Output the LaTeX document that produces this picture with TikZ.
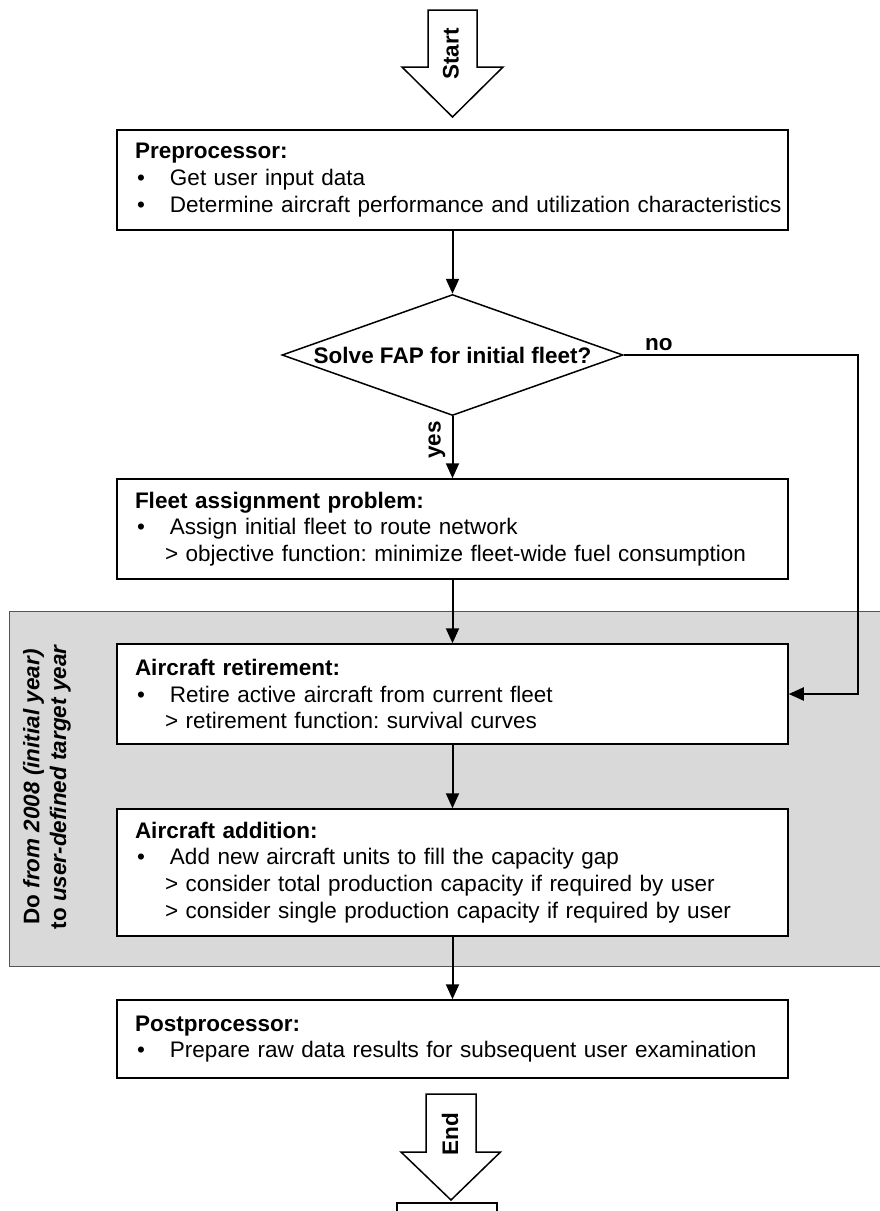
\documentclass[tikz,border=0pt]{standalone}
\usepackage{fontspec}
\setmainfont{Liberation Sans}
\usetikzlibrary{arrows.meta,shapes.geometric}
\definecolor{loopfill}{RGB}{217,217,217}
\definecolor{loopedge}{RGB}{85,85,85}
% bullet and sub-item indentation inside the process boxes
\newcommand{\itemdot}{\makebox[35pt][l]{\hspace{2pt}•}}
\newcommand{\subind}{\hspace*{30pt}}
\frenchspacing
\begin{document}
\begin{tikzpicture}[x=1pt,y=-1pt,
  txt/.style={font=\fontsize{22.5}{26.7}\selectfont},
  boldtxt/.style={font=\fontsize{22.5}{26.7}\selectfont\bfseries},
  box/.style={txt, draw=black, line width=1.5pt, fill=white, rectangle,
    text width=635pt, inner xsep=18pt, inner ysep=0pt, align=left},
  decision/.style={boldtxt, diamond, draw=black, line width=1.5pt, fill=white,
    aspect=2.82, minimum width=341pt, minimum height=121pt, inner sep=0pt},
  blockarrow/.style={draw=black, line width=1.5pt, fill=white, line join=miter},
  link/.style={line width=2pt},
  arr/.style={link, -{Triangle[length=15pt,width=13pt]}},
]
\useasboundingbox (0,0) rectangle (880,1211);

% yearly loop region
\fill[loopfill] (9.5,611) rectangle (900,966);
\draw[loopedge, line width=1pt] (900,611) -- (9.5,611) -- (9.5,966) -- (900,966);
\node[boldtxt, rotate=90, align=center] (looplabel) at (47,787)
  {Do \textit{from 2008 (initial year)}\\to \textit{user-defined target year}};

% start block arrow
\draw[blockarrow] (428,10) -- (477,10) -- (477,67) -- (503,67) -- (452.5,117)
  -- (402,67) -- (428,67) -- cycle;
\node[boldtxt, rotate=90] (starttxt) at (451,54) {Start};

% process boxes
\node[box, minimum height=100pt] (pre) at (452.5,180)
  {\textbf{Preprocessor:}\\
   \itemdot Get user input data\\
   \itemdot\mbox{Determine aircraft performance and utilization characteristics}};

\node[decision] (dec) at (452.5,355) {\makebox[0pt]{Solve FAP for initial fleet?}};

\node[box, minimum height=100pt] (fap) at (452.5,529)
  {\textbf{Fleet assignment problem:}\\
   \itemdot Assign initial fleet to route network\\
   \subind\mbox{> objective function: minimize fleet-wide fuel consumption}};

\node[box, minimum height=100pt] (ret) at (452.5,694)
  {\textbf{Aircraft retirement:}\\
   \itemdot Retire active aircraft from current fleet\\
   \subind > retirement function: survival curves};

\node[box, minimum height=127pt] (add) at (452.5,872.5)
  {\textbf{Aircraft addition:}\\
   \itemdot Add new aircraft units to fill the capacity gap\\
   \subind\mbox{> consider total production capacity if required by user}\\
   \subind\mbox{> consider single production capacity if required by user}};

\node[box, minimum height=78pt] (post) at (452.5,1039)
  {\textbf{Postprocessor:}\\
   \itemdot\mbox{Prepare raw data results for subsequent user examination}};

% end block arrow and the following box
\draw[blockarrow] (426,1094) -- (476,1094) -- (476,1152) -- (500.5,1152) -- (451,1200)
  -- (401,1152) -- (426,1152) -- cycle;
\node[boldtxt, rotate=90] (endtxt) at (450,1134) {End};
\node[draw=black, line width=1.5pt, fill=white, minimum width=100pt, minimum height=30pt,
  anchor=north, inner sep=0pt] (nextbox) at (447,1202) {};

% connectors
\draw[arr] (pre.south) -- (dec.north);
\draw[arr] (dec.south) -- (fap.north);
\draw[arr] (fap.south) -- (ret.north);
\draw[arr] (ret.south) -- (add.north);
\draw[arr] (add.south) -- (post.north);
\coordinate (rail) at (858,355);
\draw[arr] (dec.east) -- (rail) |- (ret.east);

% branch labels
\node[boldtxt, anchor=base west, inner sep=0pt] (nolabel) at (645,350) {no};
\node[boldtxt, rotate=90] (yeslabel) at (437,440) {yes};
\end{tikzpicture}
\end{document}
